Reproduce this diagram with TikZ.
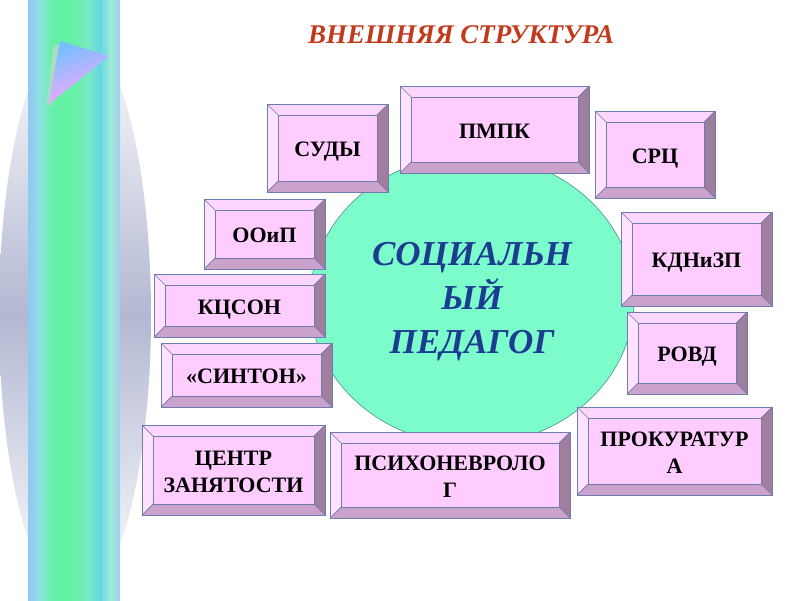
\documentclass[tikz,border=0pt]{standalone}
\usepackage{fontspec}
\setmainfont{Liberation Serif}
\definecolor{s1}{HTML}{92C6F2}
\definecolor{s2}{HTML}{8EE2E2}
\definecolor{s3}{HTML}{66F0A6}
\definecolor{s4}{HTML}{7CEAC4}
\definecolor{s5}{HTML}{62D6E2}
\definecolor{s6}{HTML}{A2EAD8}
\definecolor{s7}{HTML}{A6CCF2}
\definecolor{ellgray}{HTML}{B2B8D2}
\definecolor{bvinner}{HTML}{FFCCFF}
\definecolor{bvtopc}{HTML}{FCD6FC}
\definecolor{bvleftc}{HTML}{FFE2FF}
\definecolor{bvrightc}{HTML}{A07E9E}
\definecolor{bvbotc}{HTML}{CBA2CB}
\definecolor{bvline}{HTML}{6E7CAE}
\definecolor{circfill}{HTML}{7CFCCB}
\definecolor{circline}{HTML}{5C9C8E}
\definecolor{titlered}{HTML}{C23A1C}
\definecolor{centerblue}{HTML}{1C3C92}
\pgfdeclarehorizontalshading{stripshade}{100bp}{color(0bp)=(s1); color(25bp)=(s1); color(31bp)=(s2); color(38bp)=(s3); color(50bp)=(s3); color(58bp)=(s4); color(64bp)=(s5); color(70bp)=(s6); color(75bp)=(s7); color(100bp)=(s7)}
\tikzset{
  boxtext/.style={font=\fontsize{22}{27}\selectfont\bfseries, text=black, align=center, inner sep=0pt},
  bvline/.style={draw=bvline, line width=0.7pt, line join=miter},
}
\newcommand\mybevel[6]{%
  \fill[bvinner] (#2,#3) rectangle (#4,#5);
  \fill[bvtopc] (#2,#3) -- (#4,#3) -- (#4-11,#3+11) -- (#2+11,#3+11) -- cycle;
  \fill[bvleftc] (#2,#3) -- (#2+11,#3+11) -- (#2+11,#5-11) -- (#2,#5) -- cycle;
  \fill[bvrightc] (#4,#3) -- (#4,#5) -- (#4-11,#5-11) -- (#4-11,#3+11) -- cycle;
  \fill[bvbotc] (#2,#5) -- (#4,#5) -- (#4-11,#5-11) -- (#2+11,#5-11) -- cycle;
  \draw[bvline] (#2,#3) rectangle (#4,#5);
  \draw[bvline] (#2+11,#3+11) rectangle (#4-11,#5-11);
  \draw[bvline] (#2,#3) -- (#2+11,#3+11) (#4,#3) -- (#4-11,#3+11)
     (#2,#5) -- (#2+11,#5-11) (#4,#5) -- (#4-11,#5-11);
  \node[boxtext] (#1) at ({(#2+#4)/2},{(#3+#5)/2+4}) {#6\vphantom{Д}};
}
\begin{document}
\begin{tikzpicture}[x=1pt,y=-1pt]
\useasboundingbox (0,0) rectangle (800,600);
\fill[white] (0,0) rectangle (800,600);
% left decoration
\shade[top color=white, bottom color=white, middle color=ellgray] (75,315) ellipse [x radius=76, y radius=285];
\shade[shading=stripshade] (28,0) rectangle (120,600);
\fill[gray!40!magenta!30, opacity=0.5] (53,47) -- (60,44) -- (52,106) -- (47,104) -- cycle;
\shade[top color=blue!45!cyan!55, bottom color=magenta!35, shading angle=20] (60,41) -- (109,56) -- (49,104) -- cycle;
% title
\node[font=\fontsize{27}{29}\selectfont\bfseries\itshape, text=titlered, inner sep=0pt] (title) at (461,35) {ВНЕШНЯЯ СТРУКТУРА};
% central circle
\filldraw[fill=circfill, draw=circline, line width=0.7pt] (472,300) ellipse [x radius=162, y radius=145];
\node[font=\fontsize{35}{44}\selectfont\bfseries\itshape, text=centerblue, align=center, inner sep=0pt] (center) at (472,302) {СОЦИАЛЬН\\ЫЙ\\ПЕДАГОГ};
% boxes
\mybevel{sudy}{267}{104}{388}{192}{СУДЫ}
\mybevel{pmpk}{400}{86}{589}{173}{ПМПК}
\mybevel{src}{595}{111}{715}{198}{СРЦ}
\mybevel{kdn}{621}{212}{772}{306}{КДНиЗП}
\mybevel{ooip}{204}{199}{325}{269}{ООиП}
\mybevel{kcson}{154}{274}{325}{337}{КЦСОН}
\mybevel{sinton}{161}{343}{332}{407}{«СИНТОН»}
\mybevel{rovd}{627}{312}{747}{394}{РОВД}
\mybevel{prok}{577}{407}{772}{495}{ПРОКУРАТУР\\А}
\mybevel{centr}{142}{425}{325}{515}{ЦЕНТР\\ЗАНЯТОСТИ}
\mybevel{psih}{330}{432}{570}{518}{ПСИХОНЕВРОЛО\\Г}
\end{tikzpicture}
\end{document}
